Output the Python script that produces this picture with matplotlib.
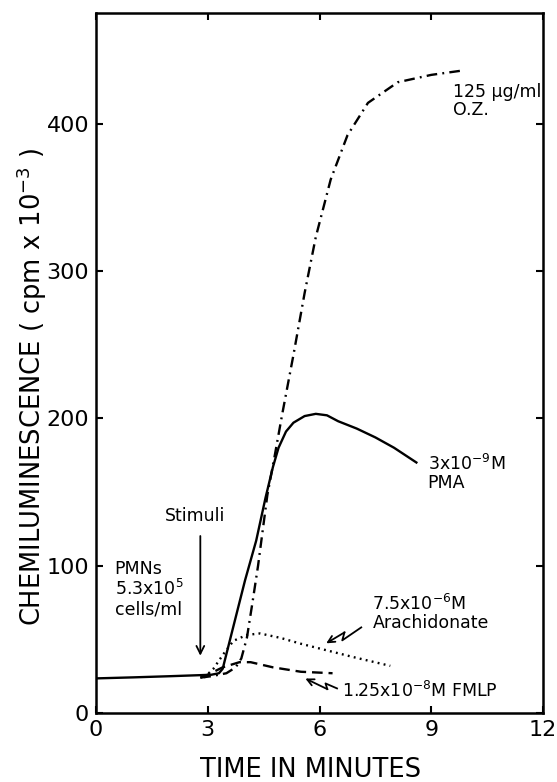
import matplotlib
matplotlib.use('Agg')
import matplotlib.pyplot as plt

# Datos (tiempo en minutos, cpm x 10^-3)
pma_t = [0, 1.0, 2.0, 2.8, 3.1, 3.3, 3.4, 3.5, 3.75, 4.0, 4.3, 4.55, 4.75, 4.9, 5.1, 5.3,
         5.6, 5.9, 6.2, 6.5, 7.0, 7.5, 8.0, 8.6]
pma_y = [23.5, 24.2, 25, 25.7, 26, 27, 30, 40, 65, 90, 117, 146, 167, 180, 191, 197,
         201.5, 203, 202, 198, 193, 187, 180, 170]

oz_t = [2.8, 3.1, 3.5, 3.75, 3.9, 4.05, 4.2, 4.35, 4.6, 4.8, 5.0, 5.3, 5.6, 5.9, 6.3,
        6.75, 7.3, 8.1, 9.0, 9.85]
oz_y = [24, 25, 27, 31, 37, 51, 75, 100, 148, 175, 203, 243, 285, 323, 362,
        392, 414, 428, 433, 436]

ara_t = [2.9, 3.15, 3.42, 3.69, 4.05, 4.4, 4.95, 5.5, 6.2, 6.9, 7.9]
ara_y = [24, 30, 40, 49, 53, 54, 51, 47, 42.5, 38, 32]

fmlp_t = [2.8, 3.0, 3.4, 3.85, 4.15, 4.75, 5.5, 6.35]
fmlp_y = [24, 26, 31, 34.5, 34.5, 31, 28, 27]

x_ticks = [0, 3, 6, 9, 12]
y_ticks = [0, 100, 200, 300, 400]

plt.rcParams['font.family'] = 'DejaVu Sans'

fig = plt.figure(figsize=(5.57, 7.82), dpi=100)
ax = fig.add_axes([0.1724, 0.0882, 0.8025, 0.8952])

lw = 1.7
ax.plot(pma_t, pma_y, color='black', lw=lw)
ax.plot(oz_t, oz_y, color='black', lw=lw, linestyle=(0, (4.5, 2.2, 0.8, 2.2)))
ax.plot(ara_t, ara_y, color='black', lw=lw, linestyle=(0, (0.8, 1.8)))
ax.plot(fmlp_t, fmlp_y, color='black', lw=lw, linestyle=(0, (4.5, 2.5)))

ax.set_xlim(0, 12)
ax.set_ylim(0, 475)
ax.set_xticks(x_ticks)
ax.set_yticks(y_ticks)
ax.tick_params(direction='in', length=5, width=1.5, labelsize=16, pad=5,
               top=True, right=True)
for s in ax.spines.values():
    s.set_linewidth(1.8)

ax.set_xlabel('TIME IN MINUTES', fontsize=18.5)
ax.xaxis.set_label_coords(0.48, -0.063)
ax.set_ylabel('CHEMILUMINESCENCE ( cpm x 10$^{-3}$ )', fontsize=18.5)
ax.yaxis.set_label_coords(-0.105, 0.466)

# Anotaciones
fs = 12.5
ax.text(2.65, 134, 'Stimuli', fontsize=fs, ha='center', va='center')
ax.annotate('', xy=(2.8, 37), xytext=(2.8, 122),
            arrowprops=dict(arrowstyle='->', color='black', lw=1.3,
                            mutation_scale=14))
ax.text(0.5, 104, 'PMNs\n5.3x10$^5$\ncells/ml', fontsize=fs, ha='left', va='top',
        linespacing=1.1)
ax.text(9.57, 415, '125 µg/ml\nO.Z.', fontsize=fs, ha='left', va='center',
        linespacing=1.0)
ax.text(8.9, 163, '3x10$^{-9}$M\nPMA', fontsize=fs, ha='left', va='center',
        linespacing=1.0)
ax.text(7.42, 68, '7.5x10$^{-6}$M\nArachidonate', fontsize=fs, ha='left', va='center',
        linespacing=1.0)
ax.text(6.6, 15, '1.25x10$^{-8}$M FMLP', fontsize=fs, ha='left', va='center')

# Flechas en zigzag
ara_zz_t = [7.12, 6.61, 6.67]
ara_zz_y = [58.1, 49.3, 54.7]
ax.plot(ara_zz_t, ara_zz_y, color='black', lw=1.3)
ax.annotate('', xy=(6.18, 47.3), xytext=(6.67, 54.7),
            arrowprops=dict(arrowstyle='->', color='black', lw=1.3,
                            mutation_scale=12, shrinkA=0, shrinkB=0))

fmlp_zz_t = [6.47, 6.16, 6.21]
fmlp_zz_y = [16.7, 20.1, 16.2]
ax.plot(fmlp_zz_t, fmlp_zz_y, color='black', lw=1.3)
ax.annotate('', xy=(5.62, 23.4), xytext=(6.21, 16.2),
            arrowprops=dict(arrowstyle='->', color='black', lw=1.3,
                            mutation_scale=12, shrinkA=0, shrinkB=0))

plt.savefig('out.png', dpi=100)
plt.close()
